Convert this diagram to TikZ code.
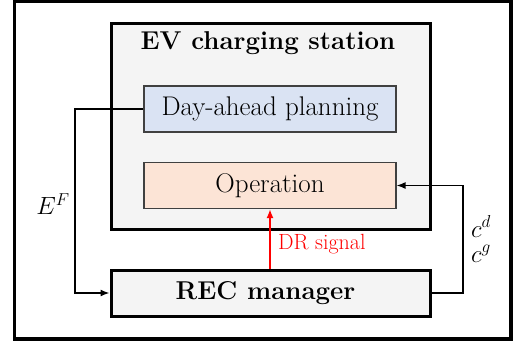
\documentclass[tikz,border=0pt]{standalone}
\usetikzlibrary{arrows.meta}
\definecolor{boxgray}{HTML}{F4F4F4}
\definecolor{planblue}{HTML}{DAE3F3}
\definecolor{oppeach}{HTML}{FCE4D6}
\definecolor{innerline}{HTML}{404040}
\begin{document}
\begin{tikzpicture}[x=1pt,y=-1pt,
  bigfont/.style={font=\fontsize{27}{32}\selectfont},
  boldfont/.style={font=\fontsize{25.8}{30}\selectfont\bfseries},
  outerbox/.style={draw=black,line width=3pt,fill=boxgray},
  innerbox/.style={draw=innerline,line width=1.1pt,minimum width=252pt,minimum height=46pt,inner sep=0pt,bigfont},
  conn/.style={draw=black,line width=1.4pt},
  tip/.style={-{Latex[length=9pt,width=7pt]}}
]
\useasboundingbox (0,0) rectangle (517,346);
% outer frame
\draw[line width=3.5pt] (14.5,1.6) rectangle (511,339.2);
% EV charging station box
\node[outerbox,minimum width=319pt,minimum height=206pt,inner sep=0pt] (ev) at (270.5,126) {};
\node[boldfont] (evt) at (268,43) {EV charging station};
% inner boxes
\node[innerbox,fill=planblue] (plan) at (270,109) {Day-ahead planning};
\node[innerbox,fill=oppeach] (op) at (270,185.5) {Operation};
% REC manager
\node[outerbox,minimum width=319pt,minimum height=46pt,inner sep=0pt,boldfont] (rec) at (270.5,293) {REC manager\hspace*{10pt}};
% connectors
\coordinate (lc1) at (75,109);
\coordinate (lc2) at (75,293);
\draw[conn,tip] (plan.west) -- (lc1) -- (lc2) -- (rec.west);
\coordinate (rc1) at (463,293);
\coordinate (rc2) at (463,185.5);
\draw[conn,tip] (rec.east) -- (rc1) -- (rc2) -- (op.east);
\draw[red,line width=1.8pt,tip] (rec.north -| op.south) -- (op.south);
% labels
\node[bigfont] (ef) at (53,204) {$E^F$};
\node[bigfont,align=center,inner sep=0pt] (cdg) at (481,239) {$c^d$\\[-7pt]$c^g$};
\node[red,font=\fontsize{22}{26}\selectfont,anchor=west] (dr) at (274.5,244) {DR signal};
\end{tikzpicture}
\end{document}
